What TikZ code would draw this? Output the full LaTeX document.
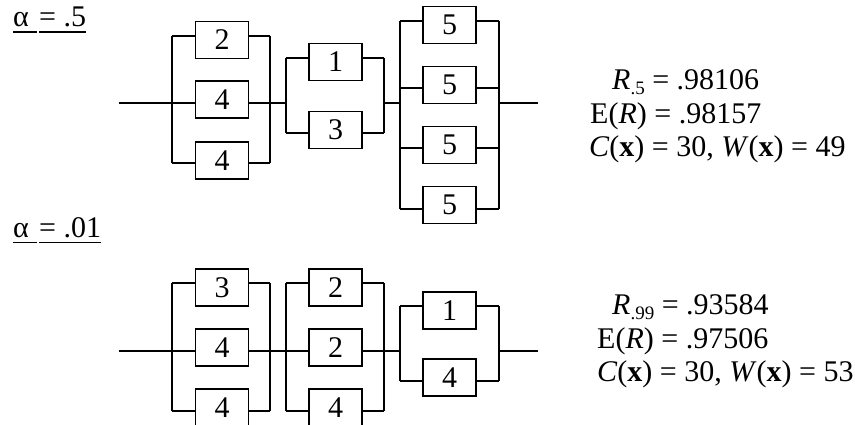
\documentclass[tikz,border=0pt]{standalone}
\usepackage{fontspec}
\setmainfont{Liberation Serif}
\newcommand{\subsz}[1]{\raisebox{-5pt}{\fontsize{19}{19}\selectfont #1}}
\begin{document}
\begin{tikzpicture}[x=1pt,y=-1pt,
  wire/.style={line width=1.1pt},
  comp/.style={draw, line width=1.1pt, minimum width=53pt, minimum height=37pt,
    inner sep=0pt, font=\fontsize{30}{30}\selectfont},
  lbl/.style={anchor=base west, inner sep=0pt, font=\fontsize{30}{36}\selectfont}]
\useasboundingbox (0,0) rectangle (855,425);

% ---------------- alpha = .5 ----------------
\node[lbl] (al1) at (13,27) {α};
\node[lbl] (av1) at (39,27) {= .5};
\draw[wire] ([yshift=-5pt]al1.base west) -- ([xshift=-2pt,yshift=-5pt]av1.base west);
\draw[wire] ([yshift=-5pt]av1.base west) -- ([yshift=-5pt]av1.base east);

% first parallel stage
\node[comp] (a1) at (222,40) {2};
\node[comp] (a2) at (222,99.5) {4};
\node[comp] (a3) at (222,160.5) {4};
\coordinate (aL1) at (172,36);  \coordinate (aL3) at (172,163);
\coordinate (aR1) at (270,36);  \coordinate (aR3) at (270,163);
\draw[wire] (aL1) -- (aL3);
\draw[wire] (aR1) -- (aR3);
\draw[wire] (aL1) -- (a1.west |- aL1);
\draw[wire] (a1.east |- aR1) -- (aR1);
\draw[wire] (aL3) -- (a3.west |- aL3);
\draw[wire] (a3.east |- aR3) -- (aR3);

% second parallel stage
\node[comp] (b1) at (335.5,62) {1};
\node[comp] (b2) at (335.5,130) {3};
\coordinate (bL1) at (286,58);  \coordinate (bL2) at (286,133);
\coordinate (bR1) at (384,58);  \coordinate (bR2) at (384,133);
\coordinate (bL) at (286,103);  \coordinate (bR) at (384,103);
\draw[wire] (bL1) -- (bL2);
\draw[wire] (bR1) -- (bR2);
\draw[wire] (bL1) -- (b1.west |- bL1);
\draw[wire] (b1.east |- bR1) -- (bR1);
\draw[wire] (bL2) -- (b2.west |- bL2);
\draw[wire] (b2.east |- bR2) -- (bR2);

% third parallel stage
\node[comp] (c1) at (449.5,25) {5};
\node[comp] (c2) at (449.5,85) {5};
\node[comp] (c3) at (449.5,145) {5};
\node[comp] (c4) at (449.5,205) {5};
\coordinate (cL1) at (400,21);  \coordinate (cL2) at (400,88);
\coordinate (cL3) at (400,148); \coordinate (cL4) at (400,209);
\coordinate (cR1) at (499,21);  \coordinate (cR2) at (499,88);
\coordinate (cR3) at (499,148); \coordinate (cR4) at (499,209);
\coordinate (cL) at (400,103);  \coordinate (cR) at (499,103);
\draw[wire] (cL1) -- (cL4);
\draw[wire] (cR1) -- (cR4);
\foreach \i in {1,2,3,4}{
  \draw[wire] (cL\i) -- (c\i.west |- cL\i);
  \draw[wire] (c\i.east |- cR\i) -- (cR\i);
}

% series line
\coordinate (in1) at (119,103);
\coordinate (out1) at (538,103);
\draw[wire] (in1) -- (a2.west |- in1);
\draw[wire] (a2.east |- in1) -- (bL);
\draw[wire] (bR) -- (cL);
\draw[wire] (cR) -- (out1);

% results
\node[lbl] (r1) at (612,90) {\textit{R}\subsz{.5}\ = .98106};
\node[lbl] (e1) at (590,124) {E(\textit{R}) = .98157};
\node[lbl] (w1) at (589,157) {\textit{C}(\textbf{x}) = 30, \textit{W}(\textbf{x}) = 49};

% ---------------- alpha = .01 ----------------
\node[lbl] (al2) at (13,238) {α};
\node[lbl] (av2) at (39,238) {= .01};
\draw[wire] ([yshift=-4.5pt]al2.base west) -- ([xshift=-2pt,yshift=-4.5pt]av2.base west);
\draw[wire] ([yshift=-4.5pt]av2.base west) -- ([yshift=-4.5pt]av2.base east);

% first parallel stage
\node[comp] (d1) at (222,287.5) {3};
\node[comp] (d2) at (222,347.5) {4};
\node[comp] (d3) at (222,407.5) {4};
\coordinate (dL1) at (172,283);  \coordinate (dL3) at (172,411);
\coordinate (dR1) at (270,283);  \coordinate (dR3) at (270,411);
\draw[wire] (dL1) -- (dL3);
\draw[wire] (dR1) -- (dR3);
\draw[wire] (dL1) -- (d1.west |- dL1);
\draw[wire] (d1.east |- dR1) -- (dR1);
\draw[wire] (dL3) -- (d3.west |- dL3);
\draw[wire] (d3.east |- dR3) -- (dR3);

% second parallel stage
\node[comp] (f1) at (335.5,287.5) {2};
\node[comp] (f2) at (335.5,347.5) {2};
\node[comp] (f3) at (335.5,407.5) {4};
\coordinate (fL1) at (286,283);  \coordinate (fL3) at (286,411);
\coordinate (fR1) at (384,283);  \coordinate (fR3) at (384,411);
\draw[wire] (fL1) -- (fL3);
\draw[wire] (fR1) -- (fR3);
\draw[wire] (fL1) -- (f1.west |- fL1);
\draw[wire] (f1.east |- fR1) -- (fR1);
\draw[wire] (fL3) -- (f3.west |- fL3);
\draw[wire] (f3.east |- fR3) -- (fR3);

% third parallel stage
\node[comp] (g1) at (449.5,310.5) {1};
\node[comp] (g2) at (449.5,377.5) {4};
\coordinate (gL1) at (400,306);  \coordinate (gL2) at (400,381);
\coordinate (gR1) at (499,306);  \coordinate (gR2) at (499,381);
\coordinate (gL) at (400,351);   \coordinate (gR) at (499,351);
\draw[wire] (gL1) -- (gL2);
\draw[wire] (gR1) -- (gR2);
\draw[wire] (gL1) -- (g1.west |- gL1);
\draw[wire] (g1.east |- gR1) -- (gR1);
\draw[wire] (gL2) -- (g2.west |- gL2);
\draw[wire] (g2.east |- gR2) -- (gR2);

% series line
\coordinate (in2) at (119,351);
\coordinate (out2) at (538,351);
\draw[wire] (in2) -- (d2.west |- in2);
\draw[wire] (d2.east |- in2) -- (f2.west |- in2);
\draw[wire] (f2.east |- in2) -- (gL);
\draw[wire] (gR) -- (out2);

% results
\node[lbl] (r2) at (612,314) {\textit{R}\subsz{.99}\ = .93584};
\node[lbl] (e2) at (597,348) {E(\textit{R}) = .97506};
\node[lbl] (w2) at (597,381) {\textit{C}(\textbf{x}) = 30, \textit{W}(\textbf{x}) = 53};
\end{tikzpicture}
\end{document}
